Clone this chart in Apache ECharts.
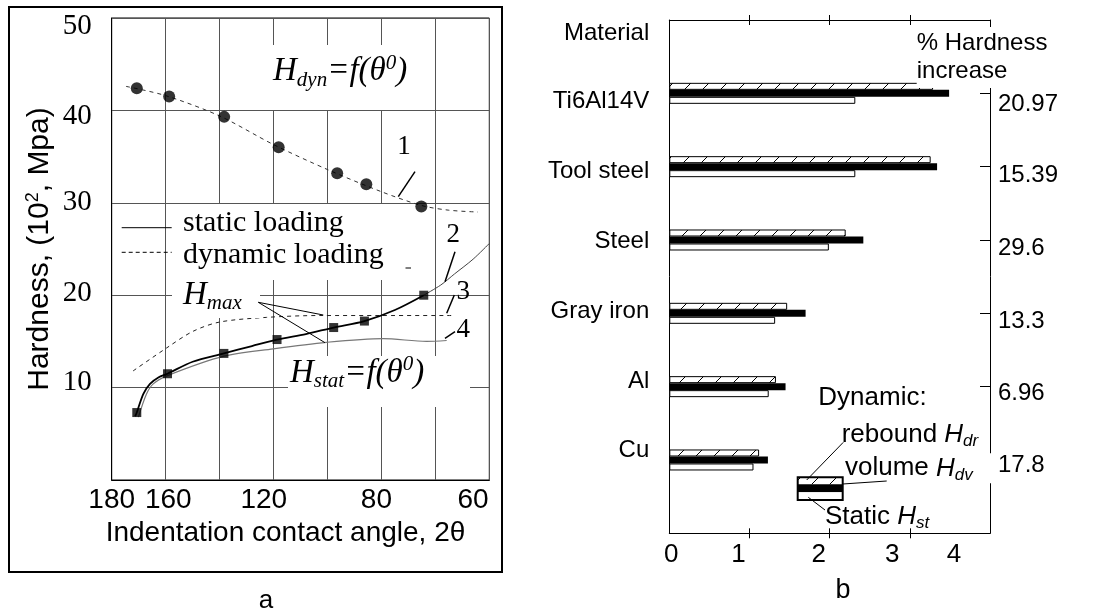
<!DOCTYPE html>
<html><head><meta charset="utf-8">
<script src="https://cdn.jsdelivr.net/npm/echarts@6/dist/echarts.min.js"></script>
<style>html,body{margin:0;padding:0;background:#fff}#c{width:1111px;height:613px}</style>
</head><body><div id="c"></div>
<script>
// ================= DATA : panel a =================
const dynAngle   = [170.7, 158.7, 138.3, 118.1, 96.4, 85.6, 65.2];
const dynHard    = [42.4, 41.5, 39.3, 36.0, 33.2, 32.0, 29.6];
const dynFitAngle = [174.7, 160, 140, 120, 100, 80, 65, 55, 44.2];
const dynFitHard  = [42.6, 41.6, 39.4, 36.3, 33.6, 31.2, 29.7, 29.2, 29.0];
const statAngle  = [170.7, 159.3, 138.4, 118.7, 97.7, 86.3, 64.3];
const statHard   = [7.3, 11.5, 13.7, 15.2, 16.5, 17.2, 20.0];
const curve2Angle = [171.3, 170.7, 168.3, 165.8, 162.7, 159.3, 150.0, 138.4, 128.0, 118.7, 108.0, 97.7, 86.3, 75.0, 64.3];
const curve2Hard  = [6.9, 7.3, 9.3, 10.4, 11.1, 11.5, 12.8, 13.7, 14.5, 15.2, 15.8, 16.5, 17.2, 18.4, 20.0];
const curve2ExtAngle = [64.3, 58, 52.9, 46, 40];
const curve2ExtHard  = [20.0, 21.1, 22.3, 23.9, 25.6];
const curve3Angle = [172.1, 159.6, 149.8, 139.9, 122.6, 102.9, 80, 53.4];
const curve3Hard  = [11.8, 14.3, 16.1, 17.1, 17.6, 17.8, 17.8, 17.8];
const curve4Angle = [170.1, 167.1, 164.6, 159.3, 138.4, 120.1, 100.4, 79.4, 63.3, 55.8];
const curve4Hard  = [6.8, 9.3, 10.4, 11.3, 13.4, 14.2, 14.9, 15.3, 15.0, 15.1];
const yTickValuesA = [10, 20, 30, 40, 50];
const xTickValuesA = [180, 160, 120, 80, 60];
const xTickLabelsA = ['180', '160', '120', '80', '60'];

// ================= DATA : panel b =================
const materials   = ['Ti6Al14V', 'Tool steel', 'Steel', 'Gray iron', 'Al', 'Cu'];
const rebound     = [3.29, 3.26, 2.20, 1.47, 1.33, 1.12];
const volume      = [3.49, 3.34, 2.42, 1.70, 1.45, 1.23];
const staticH     = [2.32, 2.32, 1.99, 1.32, 1.24, 1.05];
const pctIncrease = ['20.97', '15.39', '29.6', '13.3', '6.96', '17.8'];
const xTickValuesB = [0, 1, 2, 3, 4];
const xTickLabelsB = ['0', '1', '2', '3', '4'];

// ================= LAYOUT / STYLE =================
const SANS = 'Liberation Sans', SERIF = 'Liberation Serif';
const xShiftA = [0, 2.6, -9.7, -5, 37.6];        // px shift of each x label (panel a)
const yShiftA = [-5, -2, 0, 5.7, 8.7];           // px vertical shift of y labels (panel a)
const xShiftB = [2, -11, -11, -17.6, -36];       // px shift of x labels (panel b)
const catShiftB = [8.4, 5.1, 1.8, -1.5, -4.8, -9.1];
const pctShiftB = [10.7, 8.4, 8.4, 8.5, 6.8, 5.2];

function hPad(s){ return s >= 0 ? [0,0,0,2*s] : [0,-2*s,0,0]; }
function vPad(s){ return s >= 0 ? [2*s,0,0,0] : [0,0,-2*s,0]; }

// hatch pattern
const hatch = document.createElement('canvas');
hatch.width = 18; hatch.height = 18;
(function(){ const c = hatch.getContext('2d'); c.fillStyle='#fff'; c.fillRect(0,0,18,18);
  c.strokeStyle='#000'; c.lineWidth=1; c.beginPath();
  c.moveTo(0,18); c.lineTo(18,0); c.moveTo(-3,3); c.lineTo(3,-3); c.moveTo(15,21); c.lineTo(21,15); c.stroke(); })();
const hatchFill = { image: hatch, repeat: 'repeat' };

const zip = (a, b) => a.map((v, i) => [v, b[i]]);
const cats8 = [''].concat(materials, ['']);
const pad8 = arr => ['-'].concat(arr, ['-']);

// rich styles
const xRichA = {}; xTickLabelsA.forEach((l, i) => xRichA['a' + i] = {fontFamily: SANS, fontSize: 28, color: '#000', padding: hPad(xShiftA[i])});
const yRichA = {}; yTickValuesA.forEach((l, i) => yRichA['y' + i] = {fontFamily: SERIF, fontSize: 29, color: '#000', padding: vPad(yShiftA[i])});
const xRichB = {}; xTickLabelsB.forEach((l, i) => xRichB['b' + i] = {fontFamily: SANS, fontSize: 26, color: '#000', padding: hPad(xShiftB[i])});
const catRich = {}; materials.forEach((l, i) => catRich['c' + i] = {fontFamily: SANS, fontSize: 24, color: '#000', padding: vPad(catShiftB[i])});
const pctRich = {}; pctIncrease.forEach((l, i) => pctRich['p' + i] = {fontFamily: SANS, fontSize: 24, color: '#000', padding: vPad(pctShiftB[i])});

const itRich = {
  i:  {fontFamily: SERIF, fontStyle: 'italic', fontSize: 33, lineHeight: 38, color: '#000'},
  sb: {fontFamily: SERIF, fontStyle: 'italic', fontSize: 21, lineHeight: 22, verticalAlign: 'bottom', color: '#000'},
  sp: {fontFamily: SERIF, fontStyle: 'italic', fontSize: 21, lineHeight: 22, verticalAlign: 'top', color: '#000'}
};
const sansRich = {
  t:  {fontFamily: SANS, fontSize: 26, lineHeight: 30, color: '#000'},
  h:  {fontFamily: SANS, fontStyle: 'italic', fontSize: 26, lineHeight: 30, color: '#000'},
  sb: {fontFamily: SANS, fontStyle: 'italic', fontSize: 17, lineHeight: 18, verticalAlign: 'bottom', color: '#000'}
};

function txt(x, y, text, opt){
  opt = opt || {};
  const align = opt.align || 'left';
  const st = Object.assign({
    x: x, y: y, text: text, fill: '#000',
    align: align, textAlign: align, verticalAlign: 'middle', textVerticalAlign: 'middle',
    fontFamily: opt.family || SANS, fontSize: opt.size || 24,
    font: (opt.italic ? 'italic ' : '') + (opt.size || 24) + 'px "' + (opt.family || SANS) + '"'
  }, opt.style || {});
  return {type: 'text', z: 20, style: st};
}
function ln(x1, y1, x2, y2, w, dash){
  return {type: 'line', z: 21, shape: {x1, y1, x2, y2}, style: {stroke: '#000', lineWidth: w || 1, lineDash: dash || null}};
}
function box(x, y, w, h, fill, stroke, lw){
  return {type: 'rect', z: 15, shape: {x, y, width: w, height: h}, style: {fill: fill, stroke: stroke || null, lineWidth: lw || 0}};
}

const graphics = [
  // panel a frame
  {type: 'rect', z: 20, shape: {x: 9, y: 7, width: 493, height: 565}, style: {fill: 'none', stroke: '#000', lineWidth: 2}},
  // white boxes interrupting gridlines
  box(230, 45, 200, 65, '#fff'),
  box(172, 204, 228, 76, '#fff'),
  box(172, 280, 88, 38, '#fff'),
  box(288, 356, 182, 51, '#fff'),
  txt(273, 71.7, '{i|H}{sb|dyn}{i|=f(θ}{sp|0}{i|)}', {style: {rich: itRich}}),
  txt(404, 147, '1', {family: SERIF, size: 27, align: 'center'}),
  ln(415, 171.7, 398.3, 196.7, 1.5),
  ln(121.7, 227.7, 171.7, 227.7, 1),
  ln(121.7, 252.3, 171.7, 252.3, 1, [4, 3]),
  txt(183, 223, 'static loading', {family: SERIF, size: 30}),
  txt(183, 255, 'dynamic loading', {family: SERIF, size: 30}),
  ln(405.5, 268, 411, 268, 1),
  txt(453.3, 235, '2', {family: SERIF, size: 27, align: 'center'}),
  ln(455, 251.7, 445, 281.7, 1.5),
  txt(463.3, 291.7, '3', {family: SERIF, size: 27, align: 'center'}),
  ln(454.3, 295, 446.7, 313.3, 1.5),
  txt(463.3, 330, '4', {family: SERIF, size: 27, align: 'center'}),
  ln(445, 338.3, 455, 331.7, 1.5),
  txt(183, 295, '{i|H}{sb|max}', {style: {rich: itRich}}),
  ln(258.3, 302.3, 323.3, 315, 1),
  ln(258.3, 302.3, 325, 342.7, 1),
  txt(290, 373, '{i|H}{sb|stat}{i|=f(θ}{sp|0}{i|)}', {style: {rich: itRich}}),
  txt(266, 601, 'a', {size: 26, align: 'center'}),
  // panel b annotations
  txt(649.3, 33.7, 'Material', {size: 24, align: 'right'}),
  txt(916.7, 57.5, '% Hardness\nincrease', {size: 24, style: {lineHeight: 28.4, backgroundColor: '#fff', padding: [2, 4, 2, 0]}}),
  txt(818.3, 398.3, 'Dynamic:', {size: 26}),
  txt(841.7, 435, '{t|rebound }{h|H}{sb|dr}', {style: {rich: sansRich}}),
  txt(845, 468.3, '{t|volume }{h|H}{sb|dv}', {style: {rich: sansRich, backgroundColor: '#fff', padding: [0, 20, 0, 0]}}),
  txt(825, 516.7, '{t|Static }{h|H}{sb|st}', {style: {rich: sansRich}}),
  box(797.7, 477.3, 45, 7, hatchFill),
  box(797.7, 484.3, 45, 8, '#000'),
  box(797.7, 492.3, 45, 7.7, '#fff'),
  {type: 'rect', z: 18, shape: {x: 797.7, y: 477.3, width: 45, height: 22.7}, style: {fill: 'none', stroke: '#000', lineWidth: 2}},
  ln(806.7, 480, 843.3, 442.3, 1),
  ln(842.7, 484, 886.7, 481, 1),
  ln(808.3, 497.3, 825, 510, 1),
  txt(843, 591, 'b', {size: 27, align: 'center'})
];

const chart = echarts.init(document.getElementById('c'), null, {renderer: 'canvas'});
const option = {
  animation: false,
  backgroundColor: '#fff',
  grid: [
    {left: 111.7, top: 18, width: 377.6, height: 462, show: true, borderColor: '#000', borderWidth: 1, backgroundColor: 'transparent'},
    {left: 669.3, top: 20, width: 320.7, height: 513.3},
    {left: 669.3, top: 20, width: 320.7, height: 513.3}
  ],
  xAxis: [
    {gridIndex: 0, type: 'value', min: 40, max: 180, interval: 20, inverse: true,
     axisLine: {show: true, onZero: false, lineStyle: {color: '#000'}}, axisTick: {show: false},
     splitLine: {show: true, lineStyle: {color: '#555', width: 1}},
     axisLabel: {margin: 6, interval: 0, color: '#000', fontFamily: SANS, fontSize: 28,
       formatter: v => { const i = xTickValuesA.indexOf(v); return i < 0 ? '' : '{a' + i + '|' + xTickLabelsA[i] + '}'; },
       rich: xRichA},
     name: 'Indentation contact angle, 2θ', nameLocation: 'middle', nameGap: 37,
     nameTextStyle: {fontFamily: SANS, fontSize: 28, color: '#000', padding: [0, 30, 0, 0]}},
    {gridIndex: 1, type: 'value', min: 0, max: 4, interval: 1, position: 'bottom',
     axisLine: {show: true, onZero: false, lineStyle: {color: '#000'}},
     axisTick: {show: true, inside: true, length: 5, lineStyle: {color: '#000'}, customValues: [1, 2, 3]},
     splitLine: {show: false},
     axisLabel: {margin: 9, color: '#000', fontFamily: SANS, fontSize: 26,
       formatter: v => { const i = xTickValuesB.indexOf(v); return i < 0 ? '' : '{b' + i + '|' + xTickLabelsB[i] + '}'; },
       rich: xRichB}},
    {gridIndex: 1, type: 'value', min: 0, max: 4, interval: 1, position: 'top',
     axisLine: {show: true, onZero: false, lineStyle: {color: '#000'}},
     axisTick: {show: true, inside: true, length: 5, lineStyle: {color: '#000'}, customValues: [1, 2, 3]},
     splitLine: {show: false}, axisLabel: {show: false}},
    {gridIndex: 2, type: 'value', min: 0, max: 4, interval: 1, position: 'bottom',
     axisLine: {show: false, onZero: false}, axisTick: {show: true, length: 5, lineStyle: {color: '#000'}, customValues: [1, 2, 3]},
     splitLine: {show: false}, axisLabel: {show: false}},
    {gridIndex: 2, type: 'value', min: 0, max: 4, interval: 1, position: 'top',
     axisLine: {show: false, onZero: false}, axisTick: {show: true, length: 5, lineStyle: {color: '#000'}, customValues: [1, 2, 3]},
     splitLine: {show: false}, axisLabel: {show: false}}
  ],
  yAxis: [
    {gridIndex: 0, type: 'value', min: 0, max: 50, interval: 10,
     axisLine: {show: true, onZero: false, lineStyle: {color: '#000'}}, axisTick: {show: false},
     splitLine: {show: true, lineStyle: {color: '#555', width: 1}},
     axisLabel: {margin: 20, color: '#000', fontFamily: SERIF, fontSize: 29,
       formatter: v => { const i = yTickValuesA.indexOf(v); return i < 0 ? '' : '{y' + i + '|' + v + '}'; },
       rich: yRichA},
     name: '{t|Hardness, (10}{s|2}{t|, Mpa)}', nameLocation: 'middle', nameGap: 56,
     nameTextStyle: {rich: {
       t: {fontFamily: SANS, fontSize: 30, lineHeight: 32, color: '#000'},
       s: {fontFamily: SANS, fontSize: 18, lineHeight: 18, verticalAlign: 'top', color: '#000'}}}},
    {gridIndex: 1, type: 'category', data: cats8, inverse: true, boundaryGap: false,
     axisLine: {show: true, onZero: false, lineStyle: {color: '#000'}}, axisTick: {show: false},
     splitLine: {show: false},
     axisLabel: {interval: 0, margin: 20, color: '#000', fontFamily: SANS, fontSize: 24,
       formatter: (v, idx) => (idx >= 1 && idx <= materials.length) ? '{c' + (idx - 1) + '|' + v + '}' : '',
       rich: catRich}},
    {gridIndex: 1, type: 'category', data: cats8, inverse: true, boundaryGap: false, position: 'right',
     axisLine: {show: true, onZero: false, lineStyle: {color: '#000'}},
     axisTick: {show: true, inside: true, length: 10, interval: 0, lineStyle: {color: '#000'}},
     splitLine: {show: false},
     axisLabel: {interval: 0, margin: 8, color: '#000', fontFamily: SANS, fontSize: 24,
       formatter: (v, idx) => (idx >= 1 && idx <= pctIncrease.length) ? '{p' + (idx - 1) + '|' + pctIncrease[idx - 1] + '}' : '',
       rich: pctRich}},
    {gridIndex: 2, type: 'category', data: cats8, inverse: true, boundaryGap: false, show: false}
  ],
  series: [
    // ---- panel a ----
    {type: 'line', xAxisIndex: 0, yAxisIndex: 0, data: zip(dynFitAngle, dynFitHard), smooth: 0.3, showSymbol: false, symbol: 'none',
     lineStyle: {color: '#333', width: 1, type: [4, 4]}, z: 3},
    {type: 'scatter', xAxisIndex: 0, yAxisIndex: 0, data: zip(dynAngle, dynHard), symbol: 'circle', symbolSize: 12,
     itemStyle: {color: '#000'}, z: 5},
    {type: 'line', xAxisIndex: 0, yAxisIndex: 0, data: zip(curve4Angle, curve4Hard), smooth: 0.3, symbol: 'none',
     lineStyle: {color: '#777', width: 1.2}, z: 3},
    {type: 'line', xAxisIndex: 0, yAxisIndex: 0, data: zip(curve3Angle, curve3Hard), smooth: 0.3, symbol: 'none',
     lineStyle: {color: '#222', width: 1, type: [4, 4]}, z: 3},
    {type: 'line', xAxisIndex: 0, yAxisIndex: 0, data: zip(curve2ExtAngle, curve2ExtHard), smooth: 0.3, symbol: 'none',
     lineStyle: {color: '#444', width: 1}, z: 3},
    {type: 'line', xAxisIndex: 0, yAxisIndex: 0, data: zip(curve2Angle, curve2Hard), smooth: 0.3, symbol: 'none',
     lineStyle: {color: '#000', width: 1.8}, z: 4},
    {type: 'scatter', xAxisIndex: 0, yAxisIndex: 0, data: zip(statAngle, statHard), symbol: 'rect', symbolSize: 9,
     itemStyle: {color: '#000'}, z: 5},
    // ---- panel b ----
    {type: 'bar', name: 'rebound', xAxisIndex: 1, yAxisIndex: 1, data: pad8(rebound), barWidth: 7, barGap: '0%',
     itemStyle: {color: hatchFill, borderColor: '#000', borderWidth: 1}},
    {type: 'bar', name: 'volume', xAxisIndex: 1, yAxisIndex: 1, data: pad8(volume), barWidth: 7, barGap: '0%',
     itemStyle: {color: '#000'}},
    {type: 'bar', name: 'static', xAxisIndex: 1, yAxisIndex: 1, data: pad8(staticH), barWidth: 7, barGap: '0%',
     itemStyle: {color: '#fff', borderColor: '#000', borderWidth: 1}}
  ],
  graphic: {elements: graphics}
};
chart.setOption(option);
</script>
</body></html>
